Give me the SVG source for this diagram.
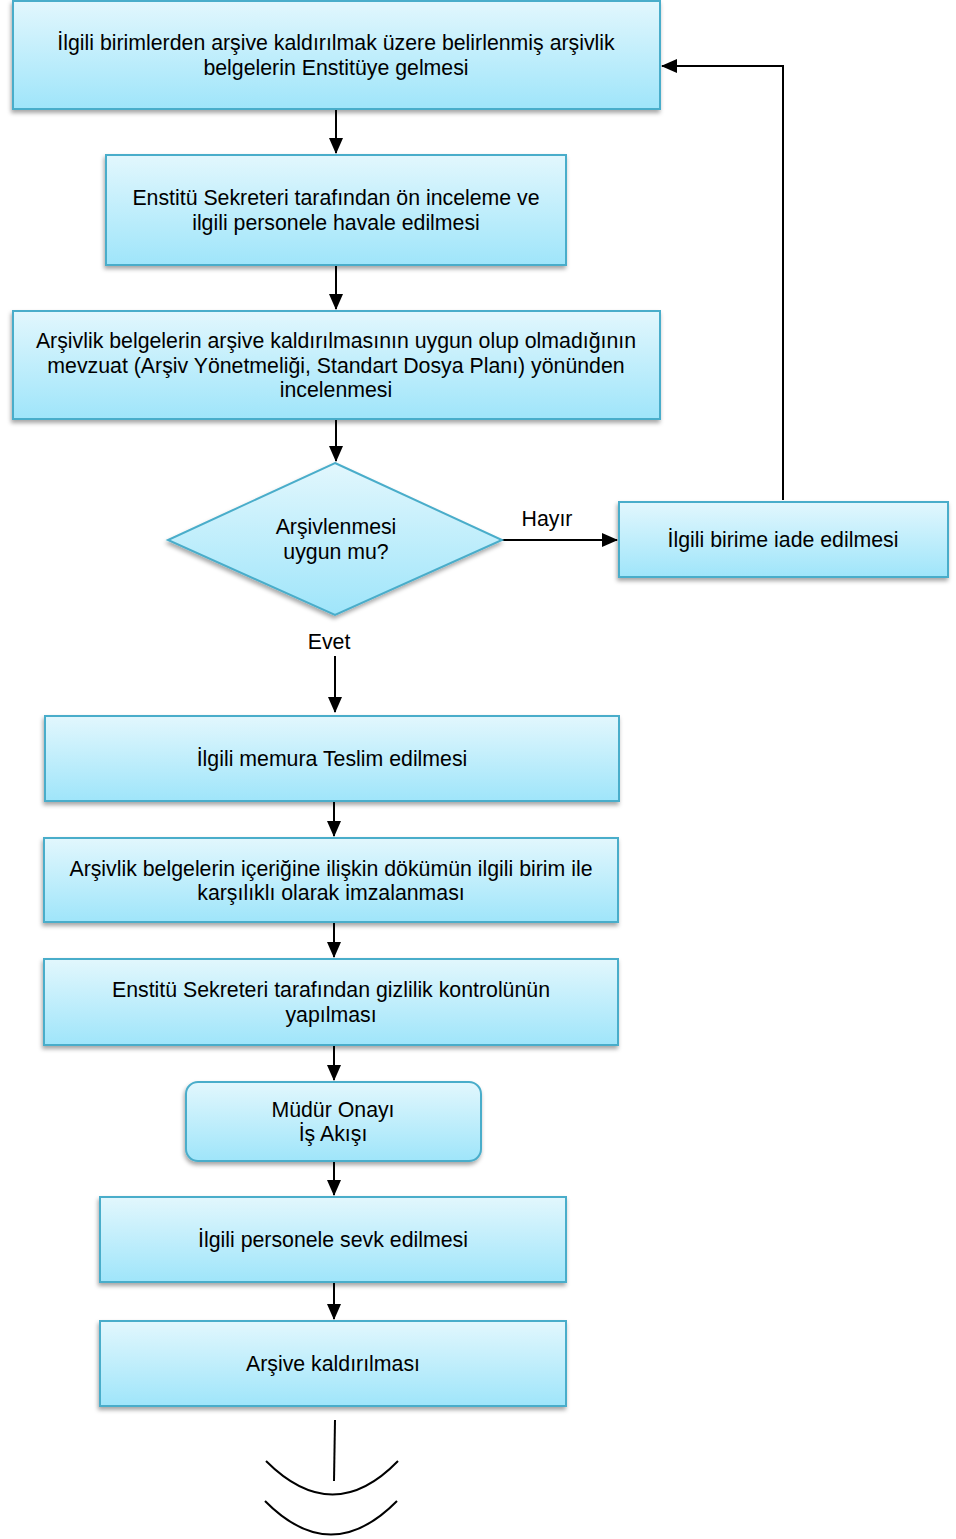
<svg xmlns="http://www.w3.org/2000/svg" width="956" height="1539" viewBox="0 0 956 1539">
<defs>
<linearGradient id="g" x1="0" y1="0" x2="0" y2="1">
<stop offset="0" stop-color="#e2f7fd"/>
<stop offset="1" stop-color="#9fe5fa"/>
</linearGradient>
<filter id="sh" x="-10%" y="-20%" width="120%" height="150%">
<feDropShadow dx="-1" dy="3" stdDeviation="2" flood-color="#000" flood-opacity="0.35"/>
</filter>
<marker id="ah2" markerWidth="16" markerHeight="14" refX="15" refY="7" orient="auto" markerUnits="userSpaceOnUse">
<path d="M0,0 L16,7 L0,14 z" fill="#000"/>
</marker>
</defs>
<style>
.n{fill:url(#g);stroke:#4aadca;stroke-width:2;filter:url(#sh)}
.t{font-family:"Liberation Sans",Arial,sans-serif;font-size:21.3px;fill:#000;text-anchor:middle}
.c{stroke:#000;stroke-width:2;fill:none}
</style>
<rect width="956" height="1539" fill="#fff"/>
<g id="connectors">
<line class="c" x1="336" y1="109" x2="336" y2="153" marker-end="url(#ah2)"/>
<line class="c" x1="336" y1="265" x2="336" y2="309" marker-end="url(#ah2)"/>
<line class="c" x1="336" y1="419" x2="336" y2="461" marker-end="url(#ah2)"/>
<line class="c" x1="502" y1="540" x2="617" y2="540" marker-end="url(#ah2)"/>
<polyline class="c" points="783,500 783,66 662,66" marker-end="url(#ah2)"/>
<line class="c" x1="335" y1="656" x2="335" y2="712" marker-end="url(#ah2)"/>
<line class="c" x1="334" y1="801" x2="334" y2="836" marker-end="url(#ah2)"/>
<line class="c" x1="334" y1="922" x2="334" y2="957" marker-end="url(#ah2)"/>
<line class="c" x1="334" y1="1045" x2="334" y2="1080" marker-end="url(#ah2)"/>
<line class="c" x1="334" y1="1161" x2="334" y2="1195" marker-end="url(#ah2)"/>
<line class="c" x1="334" y1="1282" x2="334" y2="1319" marker-end="url(#ah2)"/>
<text class="t" x="547" y="526">Hayır</text>
<text class="t" x="329" y="649">Evet</text>
</g>
<g id="n1"><rect class="n" x="13" y="1" width="647" height="108"/>
<text class="t" x="336" y="50">İlgili birimlerden arşive kaldırılmak üzere belirlenmiş arşivlik</text>
<text class="t" x="336" y="75">belgelerin Enstitüye gelmesi</text></g>
<g id="n2"><rect class="n" x="106" y="155" width="460" height="110"/>
<text class="t" x="336" y="205">Enstitü Sekreteri tarafından ön inceleme ve</text>
<text class="t" x="336" y="230">ilgili personele havale edilmesi</text></g>
<g id="n3"><rect class="n" x="13" y="311" width="647" height="108"/>
<text class="t" x="336" y="348">Arşivlik belgelerin arşive kaldırılmasının uygun olup olmadığının</text>
<text class="t" x="336" y="373">mevzuat (Arşiv Yönetmeliği, Standart Dosya Planı) yönünden</text>
<text class="t" x="336" y="397">incelenmesi</text></g>
<g id="n4"><polygon class="n" points="335,463 502,540 335,615 168,540"/>
<text class="t" x="336" y="534">Arşivlenmesi</text>
<text class="t" x="336" y="559">uygun mu?</text></g>
<g id="n5"><rect class="n" x="619" y="502" width="329" height="75"/>
<text class="t" x="783" y="547">İlgili birime iade edilmesi</text></g>
<g id="n6"><rect class="n" x="45" y="716" width="574" height="85"/>
<text class="t" x="332" y="766">İlgili memura Teslim edilmesi</text></g>
<g id="n7"><rect class="n" x="44" y="838" width="574" height="84"/>
<text class="t" x="331" y="876">Arşivlik belgelerin içeriğine ilişkin dökümün ilgili birim ile</text>
<text class="t" x="331" y="900">karşılıklı olarak imzalanması</text></g>
<g id="n8"><rect class="n" x="44" y="959" width="574" height="86"/>
<text class="t" x="331" y="997">Enstitü Sekreteri tarafından gizlilik kontrolünün</text>
<text class="t" x="331" y="1022">yapılması</text></g>
<g id="n9"><rect class="n" x="186" y="1082" width="295" height="79" rx="12"/>
<text class="t" x="333" y="1117">Müdür Onayı</text>
<text class="t" x="333" y="1141">İş Akışı</text></g>
<g id="n10"><rect class="n" x="100" y="1197" width="466" height="85"/>
<text class="t" x="333" y="1247">İlgili personele sevk edilmesi</text></g>
<g id="n11"><rect class="n" x="100" y="1321" width="466" height="85"/>
<text class="t" x="333" y="1371">Arşive kaldırılması</text></g>
<g id="end">
<line class="c" x1="335" y1="1420" x2="334" y2="1481"/>
<path class="c" d="M266,1461 Q333,1528 398,1461"/>
<path class="c" d="M265,1501 Q331,1568 397,1501"/>
</g>
</svg>
